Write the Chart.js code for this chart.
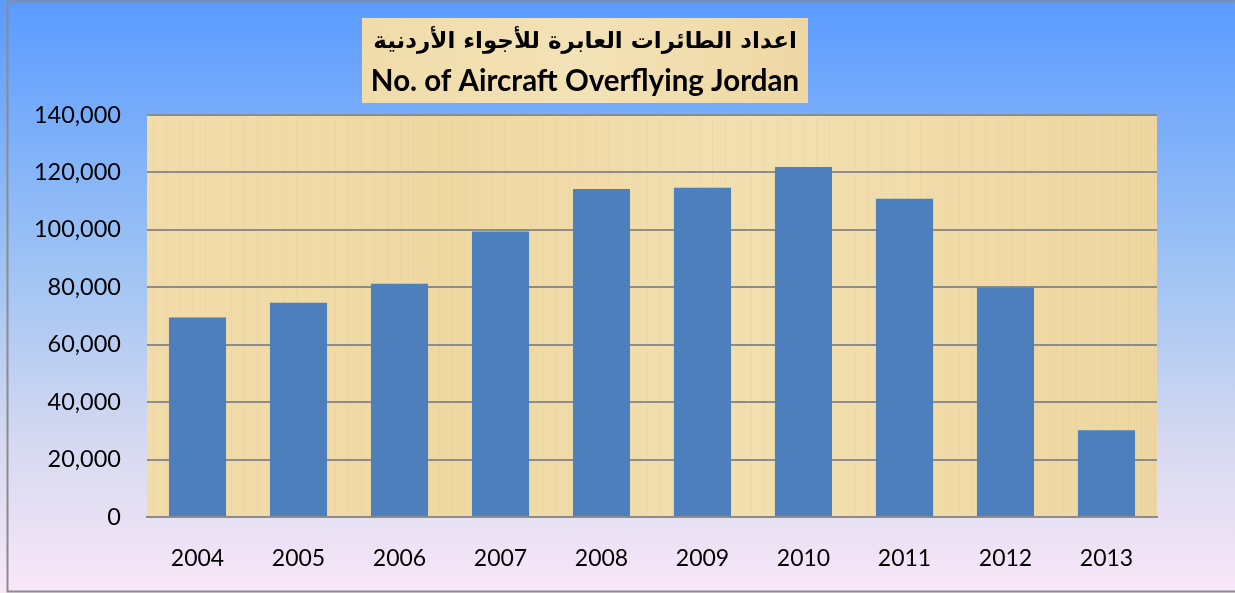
<html>

<head>
    <meta charset="utf-8">
    <title>No. of Aircraft Overflying Jordan</title>
    <script src="https://cdn.jsdelivr.net/npm/chart.js@4.4.1/dist/chart.umd.min.js"></script>
    <style>
        html, body { margin: 0; padding: 0; overflow: hidden; background: #fff; }
        #wrap { width: 1235px; height: 593px; position: relative; }
    </style>
</head>

<body>
    <div id="wrap">
        <canvas id="myChart"></canvas>
    </div>
    <script>
        const years = ['2004', '2005', '2006', '2007', '2008', '2009', '2010', '2011', '2012', '2013'];
        const aircraft = [69500, 74600, 81200, 99400, 114200, 114700, 121900, 110800, 79900, 30200];
        const titleAr = 'اعداد الطائرات العابرة للأجواء الأردنية';
        const titleEn = 'No. of Aircraft Overflying Jordan';

        const FONT = "Lato, 'Open Sans', 'DejaVu Sans', sans-serif";

        // page background, plot paper and the outer frame
        const backdrop = {
            id: 'backdrop',
            beforeDraw(chart) {
                const c = chart.ctx, w = chart.width, h = chart.height;
                const g = c.createLinearGradient(0, 0, 0, h);
                g.addColorStop(0, '#5a9bff');
                g.addColorStop(0.45, '#9fc3f4');
                g.addColorStop(0.75, '#d6d9f0');
                g.addColorStop(1, '#f9e7f8');
                c.save();
                c.fillStyle = g;
                c.fillRect(0, 0, w, h);

                const a = chart.chartArea;
                const p = c.createLinearGradient(a.left, 0, a.right, 0);
                p.addColorStop(0, '#f1dcaa');
                p.addColorStop(0.3, '#efd8a2');
                p.addColorStop(0.6, '#f2dfb0');
                p.addColorStop(1, '#eed6a0');
                c.fillStyle = p;
                c.fillRect(a.left, a.top, a.right - a.left, a.bottom - a.top);
                // faint paper fibres
                c.strokeStyle = 'rgba(190,160,100,0.07)';
                c.lineWidth = 1;
                for (let x = a.left + 6; x < a.right; x += 13) {
                    c.beginPath(); c.moveTo(x + 0.5, a.top); c.lineTo(x + 0.5, a.bottom); c.stroke();
                }
                c.restore();
            },
            afterDraw(chart) {
                const c = chart.ctx;
                c.save();
                c.strokeStyle = '#8c8c8c';
                c.lineWidth = 2;
                c.beginPath();
                c.moveTo(1236, 1.5); c.lineTo(7.5, 1.5); c.lineTo(7.5, 591.5); c.lineTo(1236, 591.5);
                c.stroke();
                c.restore();
            }
        };

        // title box with both lines
        const titleBox = {
            id: 'titleBox',
            afterDraw(chart) {
                const c = chart.ctx;
                c.save();
                const bx = 362, by = 18, bw = 446, bh = 85;
                const g = c.createLinearGradient(bx, 0, bx + bw, 0);
                g.addColorStop(0, '#f0dcaa');
                g.addColorStop(0.5, '#f3e2b6');
                g.addColorStop(1, '#eed7a3');
                c.fillStyle = g;
                c.fillRect(bx, by, bw, bh);
                c.fillStyle = '#000';
                c.textAlign = 'center';
                c.textBaseline = 'middle';
                c.direction = 'rtl';
                c.font = "bold 23px 'DejaVu Sans', sans-serif";
                c.fillText(titleAr, 585, 42);
                c.direction = 'ltr';
                c.font = "bold 29.5px " + FONT;
                c.fillText(titleEn, 585, 81);
                c.restore();
            }
        };

        const ctx = document.getElementById('myChart');
        const data = {
            labels: years,
            datasets: [
                {
                    label: 'Aircraft',
                    data: aircraft,
                    backgroundColor: '#4c7fbc',
                    borderWidth: 0,
                    barPercentage: 0.565,
                    categoryPercentage: 1
                }
            ]
        };
        const config = {
            type: 'bar',
            data: data,
            plugins: [backdrop, titleBox],
            options: {
                responsive: true,
                maintainAspectRatio: false,
                animation: false,
                devicePixelRatio: 1,
                layout: {
                    padding: { top: 115, right: 78, bottom: 0, left: 0 }
                },
                plugins: {
                    legend: { display: false },
                    title: { display: false },
                    tooltip: { enabled: false }
                },
                scales: {
                    x: {
                        grid: { display: false, drawTicks: false },
                        border: { display: true, color: '#8c8c8c', width: 2 },
                        ticks: {
                            color: '#000',
                            font: { family: FONT, size: 23 },
                            padding: 28
                        },
                        afterFit(scale) { scale.height = 76; }
                    },
                    y: {
                        min: 0,
                        max: 140000,
                        grid: { color: '#8c8c8c', lineWidth: 2, drawTicks: false },
                        border: { display: false },
                        ticks: {
                            stepSize: 20000,
                            color: '#000',
                            font: { family: FONT, size: 23.5 },
                            padding: 26,
                            callback: v => v.toLocaleString('en-US')
                        },
                        afterFit(scale) { scale.width = 147; }
                    }
                }
            }
        };
        const myChart = new Chart(ctx, config);
    </script>
</body>

</html>
